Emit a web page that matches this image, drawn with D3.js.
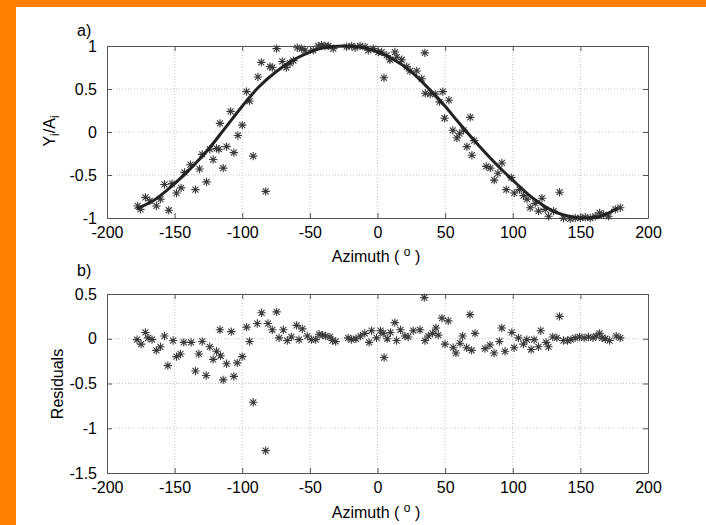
<!DOCTYPE html>
<html>
<head>
<meta charset="utf-8">
<script src="https://cdn.jsdelivr.net/npm/d3@7"></script>
<style>
  body { margin: 0; background: #fff; }
  svg { display: block; }
  text { font-family: "Liberation Sans", Arial, sans-serif; fill: #000; }
</style>
</head>
<body>
<svg width="706" height="525"></svg>
<script>
// ticks
var xTicks = [-200, -150, -100, -50, 0, 50, 100, 150, 200];
var topYTicks = [-1, -0.5, 0, 0.5, 1];
var botYTicks = [-1.5, -1, -0.5, 0, 0.5];

// fitted curve
var curveAz  = [-178, -165, -150, -138, -125, -112, -100, -88, -75, -62, -50, -40, -25, -10, 0, 10, 25, 40, 50, 60, 75, 90, 100, 115, 130, 145, 155, 165, 178];
var curveVal = [-0.89, -0.79, -0.6, -0.42, -0.2, 0.06, 0.3, 0.52, 0.7, 0.84, 0.93, 0.98, 1.0, 0.98, 0.93, 0.86, 0.7, 0.47, 0.3, 0.11, -0.16, -0.41, -0.56, -0.77, -0.92, -0.99, -1.0, -0.98, -0.88];

// normalised measurements Yi/Ai
var obsAz = [-177.3, -175.3, -171.6, -168.4, -163.5, -160.5, -157.5, -154.3, -151.9, -148.6,
  -145.2, -142.7, -138.3, -134.6, -131.6, -129.6, -126.4, -124.0, -121.5, -119.0,
  -116.5, -117.3, -114.1, -111.6, -108.6, -106.2, -103.2, -100.0, -96.8, -94.6,
  -91.9, -88.4, -85.9, -82.7, -79.5, -77.8, -74.6, -70.4, -67.4, -64.7,
  -62.2, -59.3, -56.0, -53.6, -47.5, -43.8, -41.3, -38.8, -36.4, -32.7,
  -22.8, -19.1, -16.6, -12.9, -9.2, -6.8, -3.1, 0.6, 3.1, 4.8,
  6.8, 9.2, 12.9, 14.2, 17.9, 21.6, 24.0, 29.0, 32.7, 35.0,
  35.3, 39.0, 42.7, 45.9, 48.3, 49.6, 52.8, 55.7, 58.7, 60.7,
  63.6, 66.1, 68.6, 69.8, 71.5, 80.4, 83.4, 86.3, 89.0, 92.0,
  95.2, 98.9, 101.1, 105.0, 108.0, 110.5, 112.9, 116.6, 119.1, 121.6,
  124.0, 126.5, 130.2, 134.6, 137.6, 142.5, 146.2, 150.0, 153.6, 157.3,
  161.0, 164.2, 167.2, 170.9, 175.8, 179.5];
var obsVal = [-0.86, -0.9, -0.76, -0.8, -0.86, -0.78, -0.61, -0.91, -0.6, -0.71,
  -0.65, -0.47, -0.38, -0.67, -0.43, -0.26, -0.58, -0.2, -0.32, -0.19,
  0.1, -0.2, -0.42, -0.17, 0.24, -0.24, -0.04, 0.08, 0.47, 0.36,
  -0.28, 0.64, 0.81, -0.69, 0.76, 0.75, 0.97, 0.82, 0.75, 0.8,
  0.83, 0.98, 0.97, 0.95, 0.95, 1.0, 1.01, 1.0, 1.0, 0.97,
  0.99, 1.0, 0.98, 1.0, 0.99, 0.95, 0.97, 0.93, 0.93, 0.63,
  0.89, 0.84, 0.93, 0.87, 0.84, 0.76, 0.71, 0.71, 0.62, 0.92,
  0.45, 0.44, 0.44, 0.35, 0.47, 0.16, 0.37, 0.02, -0.07, -0.02,
  0.02, -0.17, 0.17, -0.27, -0.1, -0.4, -0.42, -0.56, -0.48, -0.36,
  -0.67, -0.53, -0.71, -0.67, -0.74, -0.78, -0.88, -0.83, -0.92, -0.77,
  -0.9, -0.98, -0.92, -0.7, -1.0, -1.01, -1.0, -1.0, -0.99, -1.0,
  -0.98, -0.94, -0.96, -0.98, -0.9, -0.88];

// residuals
var resAz = [-177.8, -174.8, -171.6, -169.6, -166.7, -163.5, -160.5, -157.5, -155.0, -151.1,
  -148.6, -145.7, -143.2, -137.8, -134.6, -132.1, -129.6, -126.7, -124.0, -121.5,
  -119.0, -116.5, -116.0, -114.1, -111.6, -108.1, -106.2, -103.7, -100.0, -96.8,
  -94.6, -91.9, -88.9, -85.7, -82.7, -81.0, -77.8, -74.6, -72.8, -69.6,
  -66.7, -63.7, -59.8, -58.0, -55.6, -51.9, -48.9, -45.7, -43.2, -40.7,
  -38.3, -35.1, -33.3, -30.9, -21.7, -19.3, -16.0, -12.6, -9.4, -6.2,
  -4.4, -0.7, 2.2, 4.2, 4.9, 7.2, 9.6, 12.8, 14.1, 17.0,
  20.2, 22.7, 26.4, 31.4, 34.6, 35.1, 37.5, 40.7, 43.2, 44.9,
  47.7, 49.9, 52.3, 56.0, 58.0, 61.0, 62.9, 65.9, 68.4, 69.6,
  72.1, 79.5, 83.2, 86.2, 90.1, 91.9, 94.3, 99.3, 101.0, 104.2,
  107.9, 110.4, 113.6, 115.8, 119.0, 120.7, 124.7, 126.4, 129.6, 132.6,
  134.6, 137.5, 140.5, 143.0, 146.2, 149.4, 152.8, 156.0, 159.3, 161.7,
  164.2, 166.0, 168.4, 171.6, 176.5, 179.5];
var resVal = [-0.01, -0.06, 0.07, 0.01, -0.01, -0.13, -0.09, 0.03, -0.3, -0.02,
  -0.2, -0.17, -0.04, -0.04, -0.36, -0.17, -0.03, -0.41, -0.09, -0.23,
  -0.14, 0.1, -0.19, -0.46, -0.28, 0.08, -0.42, -0.27, -0.2, 0.13,
  -0.03, -0.71, 0.17, 0.29, -1.25, 0.17, 0.1, 0.3, 0.01, 0.1,
  -0.02, 0.02, 0.15, -0.01, 0.11, 0.03, -0.01, -0.01, 0.05, 0.04,
  0.03, 0.02, -0.02, -0.03, 0.01, -0.01, 0.0, 0.03, 0.06, -0.04,
  0.09, 0.01, 0.09, 0.06, -0.21, 0.0, 0.07, 0.18, -0.02, 0.1,
  0.03, 0.02, 0.09, 0.1, 0.46, -0.02, 0.03, 0.06, 0.12, 0.04,
  0.23, -0.06, 0.2, -0.1, -0.16, -0.05, 0.03, -0.1, 0.27, -0.13,
  0.06, -0.11, -0.07, -0.16, -0.03, 0.12, -0.14, 0.07, -0.1, 0.01,
  -0.06, -0.01, -0.12, -0.01, -0.09, 0.09, -0.04, -0.09, 0.02, 0.01,
  0.25, -0.02, -0.02, -0.01, 0.01, 0.02, 0.01, 0.02, 0.01, 0.03,
  0.06, 0.01, 0.0, -0.02, 0.03, 0.01];

var svg = d3.select("svg");

// orange frame strips
svg.append("rect").attr("x", 0).attr("y", 0).attr("width", 706).attr("height", 7).attr("fill", "#ff7f00");
svg.append("rect").attr("x", 0).attr("y", 0).attr("width", 16).attr("height", 525).attr("fill", "#ff7f00");

var left = 107, right = 648;
var axisColor = "#555";
var fs = 16;
var star = "M0,-4.2V4.2M-4.2,0H4.2M-3,-3L3,3M-3,3L3,-3";
var fmt = function(d) { return String(d); };

function panel(top, bottom, yDomain, yTicks) {
  var x = d3.scaleLinear().domain([-200, 200]).range([left, right]);
  var y = d3.scaleLinear().domain(yDomain).range([bottom, top]);
  var g = svg.append("g");

  // grid
  g.selectAll(".vgrid").data(xTicks.slice(1, -1)).enter().append("line")
    .attr("x1", function(d) { return x(d); }).attr("x2", function(d) { return x(d); })
    .attr("y1", top).attr("y2", bottom)
    .attr("stroke", "#c4c4c4").attr("stroke-width", 1).attr("stroke-dasharray", "1,2");
  g.selectAll(".hgrid").data(yTicks.slice(1, -1)).enter().append("line")
    .attr("x1", left).attr("x2", right)
    .attr("y1", function(d) { return y(d); }).attr("y2", function(d) { return y(d); })
    .attr("stroke", "#c4c4c4").attr("stroke-width", 1).attr("stroke-dasharray", "1,2");

  // axes with inward ticks, labels only on bottom/left
  var tl = 5;
  g.append("g").attr("transform", "translate(0," + bottom + ")")
    .call(d3.axisBottom(x).tickValues(xTicks).tickFormat(fmt).tickSizeInner(-tl).tickSizeOuter(0).tickPadding(9));
  g.append("g").attr("transform", "translate(0," + top + ")")
    .call(d3.axisTop(x).tickValues(xTicks).tickFormat("").tickSizeInner(-tl).tickSizeOuter(0));
  g.append("g").attr("transform", "translate(" + left + ",0)")
    .call(d3.axisLeft(y).tickValues(yTicks).tickFormat(fmt).tickSizeInner(-tl).tickSizeOuter(0).tickPadding(10));
  g.append("g").attr("transform", "translate(" + right + ",0)")
    .call(d3.axisRight(y).tickValues(yTicks).tickFormat("").tickSizeInner(-tl).tickSizeOuter(0));

  g.selectAll(".domain").attr("stroke", axisColor);
  g.selectAll(".tick line").attr("stroke", axisColor);
  g.selectAll(".tick text").attr("font-size", fs).attr("fill", "#000")
    .attr("font-family", "'Liberation Sans', Arial, sans-serif");
  return { x: x, y: y, g: g };
}

// panel a
var a = panel(46, 218, [-1, 1], topYTicks);
a.g.append("g").selectAll("path").data(d3.range(obsAz.length)).enter().append("path")
  .attr("d", star)
  .attr("transform", function(i) { return "translate(" + a.x(obsAz[i]) + "," + a.y(obsVal[i]) + ")"; })
  .attr("fill", "none").attr("stroke", "#3a3a3a").attr("stroke-width", 1.1);
var line = d3.line()
  .x(function(i) { return a.x(curveAz[i]); })
  .y(function(i) { return a.y(curveVal[i]); })
  .curve(d3.curveCatmullRom);
a.g.append("path").datum(d3.range(curveAz.length)).attr("d", line)
  .attr("fill", "none").attr("stroke", "#222").attr("stroke-width", 3);

// panel b
var b = panel(294, 473, [-1.5, 0.5], botYTicks);
b.g.append("g").selectAll("path").data(d3.range(resAz.length)).enter().append("path")
  .attr("d", star)
  .attr("transform", function(i) { return "translate(" + b.x(resAz[i]) + "," + b.y(resVal[i]) + ")"; })
  .attr("fill", "none").attr("stroke", "#3a3a3a").attr("stroke-width", 1.1);

// labels
function xTitle(yBase) {
  var t = svg.append("text").attr("x", 376).attr("y", yBase).attr("text-anchor", "middle").attr("font-size", fs);
  t.append("tspan").text("Azimuth ( ");
  t.append("tspan").attr("font-size", 12).attr("dy", -6).text("o");
  t.append("tspan").attr("dy", 6).text(" )");
}
xTitle(262);
xTitle(518);

svg.append("text").attr("x", 77).attr("y", 36).attr("font-size", fs).text("a)");
svg.append("text").attr("x", 77).attr("y", 276).attr("font-size", fs).text("b)");

var yl = svg.append("text").attr("transform", "translate(55,131) rotate(-90)")
  .attr("text-anchor", "middle").attr("font-size", fs);
yl.append("tspan").text("Y");
yl.append("tspan").attr("font-size", 12).attr("dy", 4).text("i");
yl.append("tspan").attr("dy", -4).text("/A");
yl.append("tspan").attr("font-size", 12).attr("dy", 4).text("i");

svg.append("text").attr("transform", "translate(63,384) rotate(-90)")
  .attr("text-anchor", "middle").attr("font-size", fs).text("Residuals");
</script>
</body>
</html>
